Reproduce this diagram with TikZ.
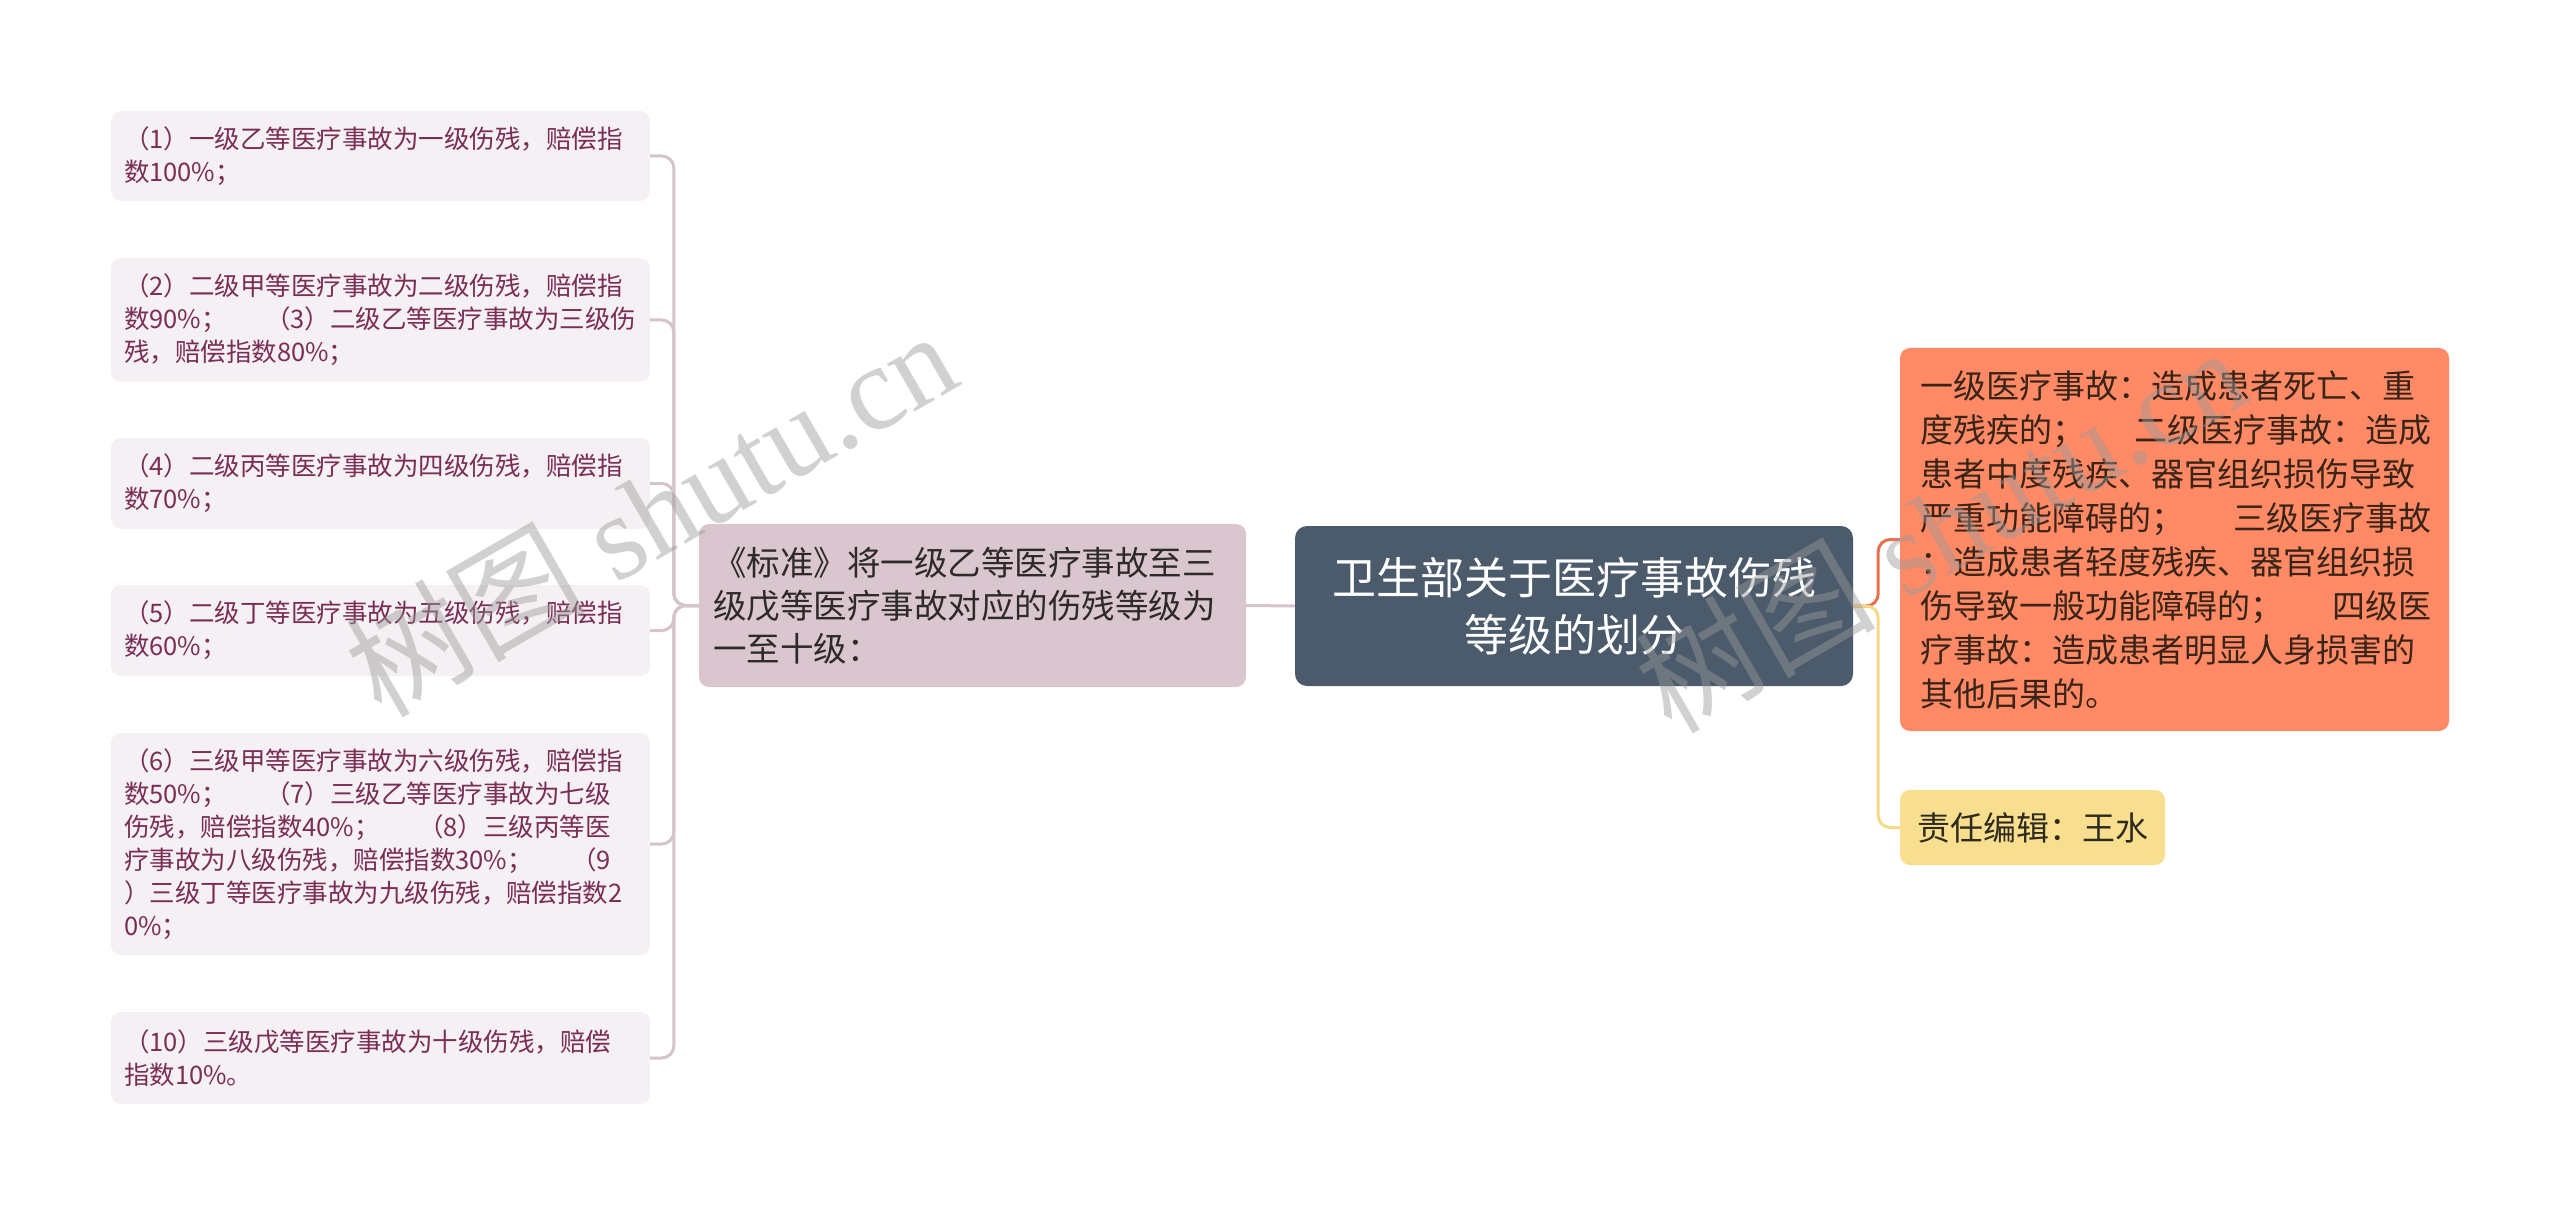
\documentclass[tikz,border=0pt]{standalone}
\usepackage{fontspec}
\setmainfont{Noto Sans CJK SC}
\newfontfamily\wmlatin{Liberation Serif}
\definecolor{leaffill}{HTML}{F5F0F3}
\definecolor{leaftext}{HTML}{7A2E56}
\definecolor{bracket}{HTML}{D5C4CB}
\definecolor{midfill}{HTML}{D9C6CE}
\definecolor{midtext}{HTML}{2E2A2C}
\definecolor{rootfill}{HTML}{4B5B6B}
\definecolor{orfill}{HTML}{FF8A65}
\definecolor{orline}{HTML}{E8714E}
\definecolor{ortext}{HTML}{3A2418}
\definecolor{yefill}{HTML}{F7DF8F}
\definecolor{yeline}{HTML}{F4DA88}
\definecolor{yetext}{HTML}{2F2A1E}
\definecolor{wmgray}{HTML}{9A9A9A}
\newcommand\gp{\kern1.5em}
\begin{document}
\begin{tikzpicture}[x=1pt,y=-1pt,
  leafbox/.style={fill=leaffill,text=leaftext,rounded corners=10pt,
    font=\fontsize{25.5pt}{33pt}\selectfont,align=left,text width=513pt,
    inner xsep=13pt,inner ysep=0pt},
  midbox/.style={fill=midfill,text=midtext,rounded corners=10pt,
    font=\fontsize{33.5pt}{43pt}\selectfont,align=left,text width=519pt,
    inner xsep=14pt,inner ysep=0pt,minimum height=163pt},
  rootbox/.style={fill=rootfill,text=white,rounded corners=12pt,
    font=\fontsize{44pt}{57pt}\selectfont,align=center,text width=530pt,
    inner xsep=14pt,inner ysep=0pt,minimum height=160pt},
  orbox/.style={fill=orfill,text=ortext,rounded corners=10pt,
    font=\fontsize{33pt}{44pt}\selectfont,align=left,text width=509pt,
    inner xsep=20pt,inner ysep=0pt,minimum height=383pt},
  yebox/.style={fill=yefill,text=yetext,rounded corners=10pt,
    font=\fontsize{33pt}{44pt}\selectfont,align=left,text width=231pt,
    inner xsep=17pt,inner ysep=0pt,minimum height=75pt},
  brline/.style={draw=bracket,line width=3pt,rounded corners=12pt},
  orlink/.style={draw=orline,line width=3pt,rounded corners=12pt},
  yelink/.style={draw=yeline,line width=3pt,rounded corners=12pt},
  wmark/.style={text=wmgray,opacity=0.45,rotate=30,inner sep=0pt,
    font=\fontsize{120pt}{120pt}\selectfont}
]
\useasboundingbox[fill=white] (0,0) rectangle (2560,1214);

% leaves
\node[leafbox,minimum height=90pt] (b1) at (380.5,156) {（1）一级乙等医疗事故为一级伤残，赔偿指\\数100\%；};
\node[leafbox,minimum height=124pt] (b2) at (380.5,320) {（2）二级甲等医疗事故为二级伤残，赔偿指\\数90\%；\gp（3）二级乙等医疗事故为三级伤\\残，赔偿指数80\%；};
\node[leafbox,minimum height=91pt] (b3) at (380.5,483.5) {（4）二级丙等医疗事故为四级伤残，赔偿指\\数70\%；};
\node[leafbox,minimum height=91pt] (b4) at (380.5,630.5) {（5）二级丁等医疗事故为五级伤残，赔偿指\\数60\%；};
\node[leafbox,minimum height=222pt] (b5) at (380.5,844) {（6）三级甲等医疗事故为六级伤残，赔偿指\\数50\%；\gp（7）三级乙等医疗事故为七级\\伤残，赔偿指数40\%；\gp（8）三级丙等医\\疗事故为八级伤残，赔偿指数30\%；\gp（9\\）三级丁等医疗事故为九级伤残，赔偿指数2\\0\%；};
\node[leafbox,minimum height=92pt] (b6) at (380.5,1058) {（10）三级戊等医疗事故为十级伤残，赔偿\\指数10\%。};

% middle
\node[midbox] (mid) at (972.5,605.5) {《标准》将一级乙等医疗事故至三\\级戊等医疗事故对应的伤残等级为\\一至十级：};

% root
\node[rootbox] (root) at (1574,606) {卫生部关于医疗事故伤残\\等级的划分};

% right
\node[orbox] (or) at (2174.5,539.5) {一级医疗事故：造成患者死亡、重\\度残疾的；\gp 二级医疗事故：造成\\患者中度残疾、器官组织损伤导致\\严重功能障碍的；\gp 三级医疗事故\\：造成患者轻度残疾、器官组织损\\伤导致一般功能障碍的；\gp 四级医\\疗事故：造成患者明显人身损害的\\其他后果的。};
\node[yebox] (ye) at (2032.5,827.5) {责任编辑：王水};

% connectors
\draw[brline] (root.west) -- (mid.east);
\foreach \b in {b1,b2,b3,b4,b5,b6}
  \draw[brline] (mid.west) -- ++(-25,0) |- (\b.east);
\draw[orlink] (root.east) -- ++(25,0) |- (or.west);
\draw[yelink] (root.east) -- ++(25,0) |- (ye.west);

% watermark
\node[wmark] (wm1) at (650,512) {树图\kern0.25em{\wmlatin shutu.cn}};
\node[wmark] (wm2) at (1940,528) {树图\kern0.25em{\wmlatin shutu.cn}};
\end{tikzpicture}
\end{document}
